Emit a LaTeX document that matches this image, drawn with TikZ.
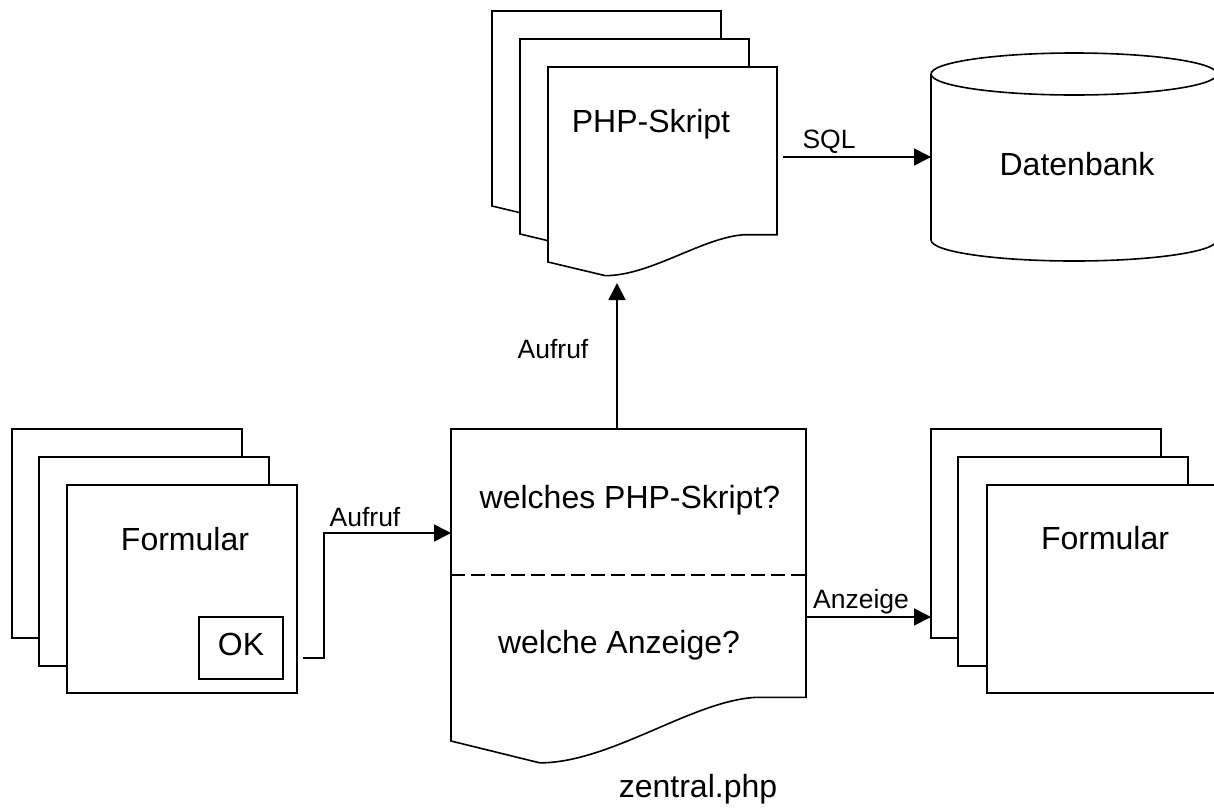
\documentclass[tikz,border=0pt]{standalone}
\usepackage{fontspec}
\setmainfont{Liberation Sans}
\usetikzlibrary{arrows.meta}
\tikzset{
  shp/.style={draw=black, fill=white, line width=1.6pt, line join=miter},
  conn/.style={draw=black, line width=1.6pt},
  arr/.style={conn, -{Triangle[length=17pt,width=17pt]}},
  big/.style={font=\fontsize{32}{38}\selectfont, inner sep=0pt, anchor=base},
  small/.style={font=\fontsize{26.5}{32}\selectfont, inner sep=0pt, anchor=base},
}
\newcommand\docshape[4]{%
  \draw[shp] (#1,#2) -- ({#1+#3},#2) -- ({#1+#3},{#2+0.86*#4})
    -- ({#1+0.86*#3},{#2+0.86*#4})
    .. controls ({#1+0.68*#3},{#2+0.87*#4}) and ({#1+0.45*#3},{#2+1.07*#4}) ..
    ({#1+0.25*#3},{#2+1.07*#4}) -- (#1,{#2+#4}) -- cycle;}
\begin{document}
\begin{tikzpicture}[x=1pt,y=-1pt]
\useasboundingbox (0,0) rectangle (1214,807);
\fill[white] (0,0) rectangle (1214,807);

% PHP-Skript stack
\docshape{492}{11}{229}{195}
\docshape{520}{39}{229}{195}
\docshape{548}{67}{229}{195}
\node[big] (php) at (651,132) {PHP-Skript};

% Datenbank cylinder
\draw[shp] (931,74) -- (931,240) arc[start angle=180, end angle=0, x radius=143, y radius=21] -- (1217,74);
\draw[shp] (1074,74) ellipse [x radius=143, y radius=21];
\node[big] (db) at (1077,175) {Datenbank};

% left Formular stack
\draw[shp] (12,429) rectangle (242,638);
\draw[shp] (39,457) rectangle (269,666);
\draw[shp] (67,485) rectangle (297,693);
\node[big] (f1) at (185,550) {Formular};
\draw[shp] (199,617) rectangle (283,679);
\node[big] (ok) at (241,655) {OK};

% right Formular stack
\draw[shp] (931,429) rectangle (1161,638);
\draw[shp] (958,457) rectangle (1188,666);
\draw[shp] (987,485) rectangle (1217,693);
\node[big] (f2) at (1105,549) {Formular};

% zentral document
\docshape{451}{429}{355}{312}
\draw[conn, dash pattern=on 14pt off 6pt] (451,575) -- (806,575);
\node[big] (q1) at (630,508) {welches PHP-Skript?};
\node[big] (q2) at (619,653) {welche Anzeige?};
\node[big] (zp) at (698,797) {zentral.php};

% connector coordinates
\coordinate (sqlS) at (783,157);
\coordinate (dbL) at (931,157);
\coordinate (zTop) at (617,429);
\coordinate (phpB) at (617,283);
\coordinate (okOut) at (303,658);
\coordinate (zL) at (451,533);
\coordinate (zR) at (806,617);
\coordinate (f2L) at (931,617);

\draw[arr] (sqlS) -- (dbL);
\node[small] (lsql) at (829,148) {SQL};
\draw[arr] (zTop) -- (phpB);
\node[small] (la1) at (553,358) {Aufruf};
\draw[arr] (okOut) -- ++(21,0) |- (zL);
\node[small] (la2) at (365,526) {Aufruf};
\draw[arr] (zR) -- (f2L);
\node[small] (lanz) at (861,608) {Anzeige};
\end{tikzpicture}
\end{document}
